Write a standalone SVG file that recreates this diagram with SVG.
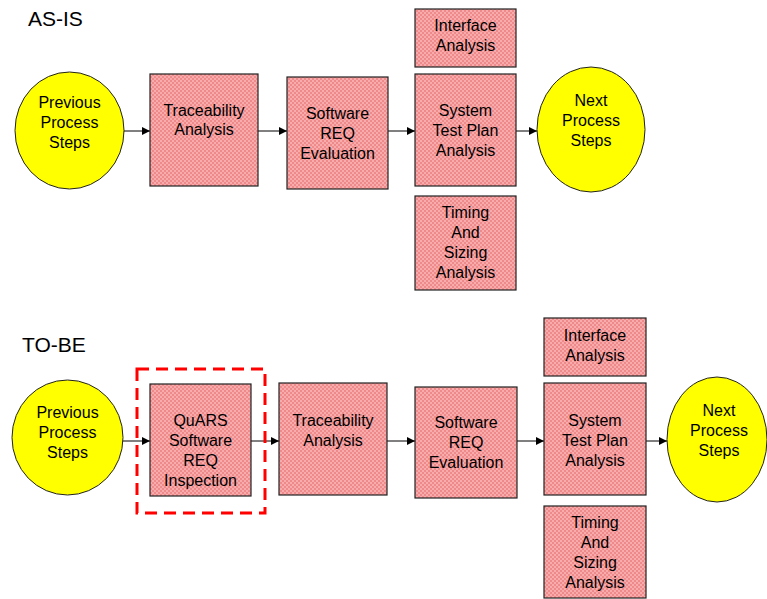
<svg xmlns="http://www.w3.org/2000/svg" width="767" height="599" viewBox="0 0 767 599">
<defs>
<pattern id="hatch" width="4" height="4" patternUnits="userSpaceOnUse">
<rect width="4" height="4" fill="#F08A8A"/>
<rect x="0" y="0" width="2" height="2" fill="#F6ACAC"/>
<rect x="2" y="2" width="2" height="2" fill="#F6ACAC"/>
</pattern>
<marker id="arr" viewBox="0 0 10 10" refX="10" refY="5" markerWidth="8" markerHeight="8" markerUnits="userSpaceOnUse" orient="auto">
<path d="M0,0 L10,5 L0,10 z" fill="#000"/>
</marker>
</defs>
<style>
.box{fill:url(#hatch);stroke:#222;stroke-width:1.2}
.oval{fill:#FFFF00;stroke:#222;stroke-width:1}
.t{font-family:"Liberation Sans",Arial,sans-serif;font-size:16px;fill:#000;text-anchor:middle}
.h{font-family:"Liberation Sans",Arial,sans-serif;font-size:21px;fill:#000}
.c{stroke:#000;stroke-width:1;fill:none;marker-end:url(#arr)}
</style>
<rect width="767" height="599" fill="#fff"/>
<text class="h" x="28" y="26">AS-IS</text>
<text class="h" x="22" y="352">TO-BE</text>

<g id="conn">
<line class="c" x1="124" y1="131" x2="150" y2="131"/>
<line class="c" x1="258" y1="131" x2="287" y2="131"/>
<line class="c" x1="388" y1="131" x2="415" y2="131"/>
<line class="c" x1="516" y1="131" x2="537" y2="131"/>
<line class="c" x1="123" y1="441" x2="150" y2="441"/>
<line class="c" x1="251" y1="441" x2="279" y2="441"/>
<line class="c" x1="387" y1="441" x2="415" y2="441"/>
<line class="c" x1="517" y1="441" x2="544" y2="441"/>
<line class="c" x1="646" y1="441" x2="667" y2="441"/>
</g>

<g id="asis-prev"><ellipse class="oval" cx="69.5" cy="130.5" rx="54.5" ry="58.5"/>
<text class="t" x="69.5" y="108">Previous</text><text class="t" x="69.5" y="128">Process</text><text class="t" x="69.5" y="148">Steps</text></g>
<g id="asis-trace"><rect class="box" x="150" y="74" width="108" height="112"/>
<text class="t" x="204" y="116">Traceability</text><text class="t" x="204" y="135">Analysis</text></g>
<g id="asis-sw"><rect class="box" x="287" y="77" width="101" height="112"/>
<text class="t" x="337.5" y="119">Software</text><text class="t" x="337.5" y="139">REQ</text><text class="t" x="337.5" y="159">Evaluation</text></g>
<g id="asis-iface"><rect class="box" x="415" y="9" width="101" height="58"/>
<text class="t" x="465.5" y="31">Interface</text><text class="t" x="465.5" y="51">Analysis</text></g>
<g id="asis-sys"><rect class="box" x="415" y="74" width="101" height="112"/>
<text class="t" x="465.5" y="116">System</text><text class="t" x="465.5" y="136">Test Plan</text><text class="t" x="465.5" y="156">Analysis</text></g>
<g id="asis-timing"><rect class="box" x="415" y="196" width="101" height="94"/>
<text class="t" x="465.5" y="218">Timing</text><text class="t" x="465.5" y="238">And</text><text class="t" x="465.5" y="258">Sizing</text><text class="t" x="465.5" y="278">Analysis</text></g>
<g id="asis-next"><ellipse class="oval" cx="591" cy="129.5" rx="54" ry="62.5"/>
<text class="t" x="591" y="106">Next</text><text class="t" x="591" y="126">Process</text><text class="t" x="591" y="146">Steps</text></g>

<g id="tobe-prev"><ellipse class="oval" cx="67.5" cy="437.5" rx="55.5" ry="57.5"/>
<text class="t" x="67.5" y="418">Previous</text><text class="t" x="67.5" y="438">Process</text><text class="t" x="67.5" y="458">Steps</text></g>
<g id="tobe-highlight"><rect x="137" y="369" width="128" height="144" fill="none" stroke="#FF0000" stroke-width="3" stroke-dasharray="12 7"/></g>
<g id="tobe-quars"><rect class="box" x="150" y="384" width="101" height="112"/>
<text class="t" x="200.5" y="426">QuARS</text><text class="t" x="200.5" y="446">Software</text><text class="t" x="200.5" y="466">REQ</text><text class="t" x="200.5" y="486">Inspection</text></g>
<g id="tobe-trace"><rect class="box" x="279" y="383" width="108" height="112"/>
<text class="t" x="333" y="426">Traceability</text><text class="t" x="333" y="446">Analysis</text></g>
<g id="tobe-sw"><rect class="box" x="415" y="387" width="102" height="111"/>
<text class="t" x="466" y="428">Software</text><text class="t" x="466" y="448">REQ</text><text class="t" x="466" y="468">Evaluation</text></g>
<g id="tobe-iface"><rect class="box" x="544" y="318" width="102" height="58"/>
<text class="t" x="595" y="341">Interface</text><text class="t" x="595" y="361">Analysis</text></g>
<g id="tobe-sys"><rect class="box" x="544" y="383" width="102" height="112"/>
<text class="t" x="595" y="426">System</text><text class="t" x="595" y="446">Test Plan</text><text class="t" x="595" y="466">Analysis</text></g>
<g id="tobe-timing"><rect class="box" x="544" y="506" width="102" height="92"/>
<text class="t" x="595" y="528">Timing</text><text class="t" x="595" y="548">And</text><text class="t" x="595" y="568">Sizing</text><text class="t" x="595" y="588">Analysis</text></g>
<g id="tobe-next"><ellipse class="oval" cx="717" cy="439.5" rx="50" ry="62.5"/>
<text class="t" x="719" y="416">Next</text><text class="t" x="719" y="436">Process</text><text class="t" x="719" y="456">Steps</text></g>
</svg>
